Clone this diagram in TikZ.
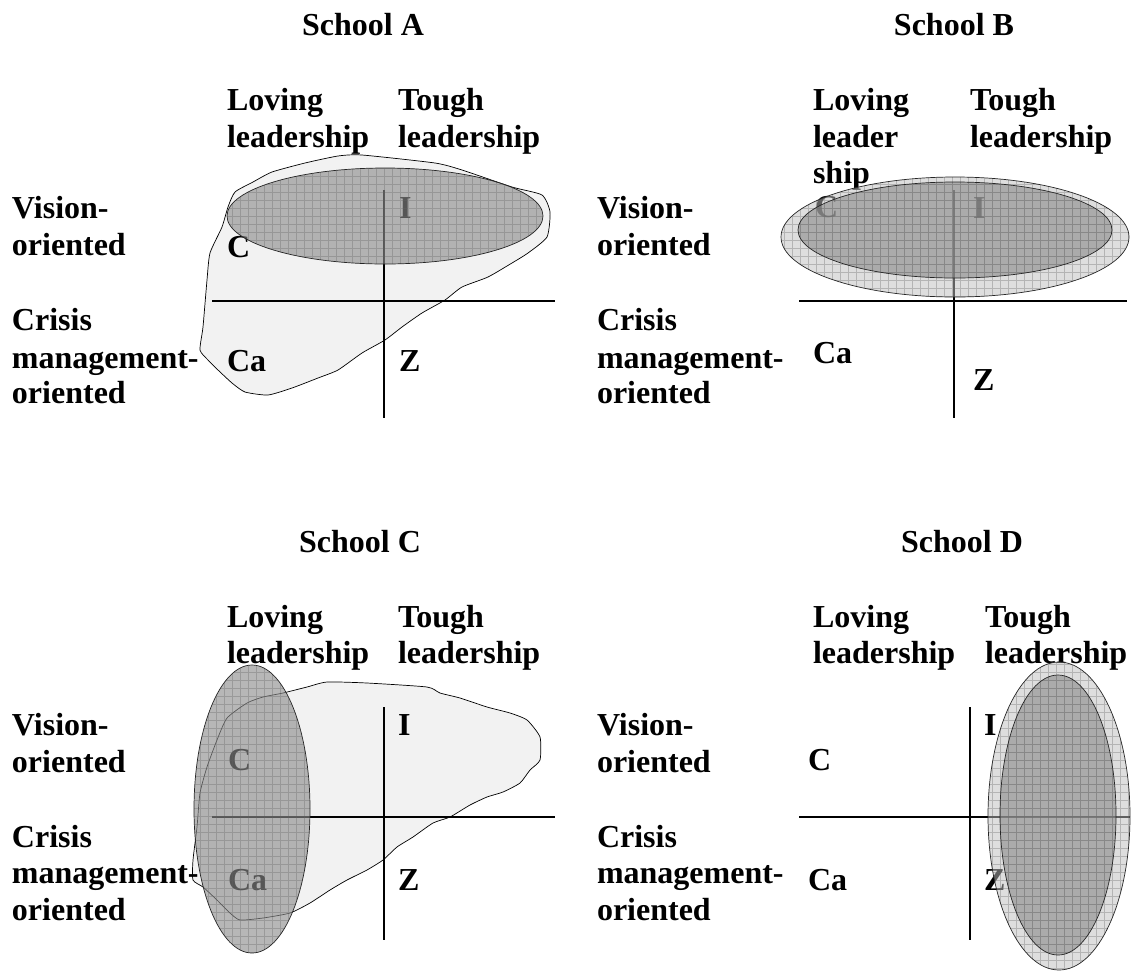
\documentclass[tikz,border=0pt]{standalone}
\usepackage{fontspec}
\setmainfont{Liberation Serif}
\begin{document}
\begin{tikzpicture}[x=1pt,y=-1pt,
  lbl/.style={anchor=base west,inner sep=0pt,outer sep=0pt,font=\bfseries\fontsize{32}{37}\selectfont},
  ttl/.style={anchor=base,inner sep=0pt,outer sep=0pt,font=\bfseries\fontsize{32}{37}\selectfont},
  axisline/.style={line width=1.6pt},
  blobshape/.style={fill=blobgray,draw=black,line width=0.7pt},
  darkfill/.style={fill=black!45,fill opacity=0.62},
  lightfill/.style={fill=black!25,fill opacity=0.5},
  gridlines/.style={draw=black!60,line width=0.5pt,opacity=0.35},
  ellline/.style={draw=black!85,line width=0.7pt}]
\definecolor{blobgray}{HTML}{F2F2F2}
\useasboundingbox (0,0) rectangle (1137,970);
\fill[white] (0,0) rectangle (1137,970);

% ---------------- titles
\node[ttl] (tA) at (363,35) {School A};
\node[ttl] (tB) at (954,35) {School B};
\node[ttl] (tC) at (360,552) {School C};
\node[ttl] (tD) at (962,552) {School D};

% ================= Panel A
\draw[blobshape] plot[smooth cycle,tension=0.35] coordinates {
 (235,192) (253,182) (272,172) (305,163) (338,156) (362,155) (435,163) (462,170)
 (512,187) (542,195) (550,212) (547,237) (528,253) (512,263) (488,277) (462,287)
 (445,300) (422,313) (402,327) (385,340) (362,353) (338,370) (318,378) (292,388)
 (268,395) (245,392) (232,383) (218,370) (208,360) (200,350) (203,327) (207,280)
 (210,253) (222,227) (228,207)};
\coordinate (aHl) at (212,301); \coordinate (aHr) at (555,301);
\coordinate (aVt) at (384,190); \coordinate (aVb) at (384,418);
\draw[axisline] (aHl) -- (aHr);
\draw[axisline] (aVt) -- (aVb);
\node[lbl] (aL1) at (227,110) {Loving};
\node[lbl] (aL2) at (227,147) {leadership};
\node[lbl] (aT1) at (398,110) {Tough};
\node[lbl] (aT2) at (398,147) {leadership};
\node[lbl] (aV1) at (12,218) {Vision-};
\node[lbl] (aV2) at (12,255) {oriented};
\node[lbl] (aK1) at (12,330) {Crisis};
\node[lbl] (aK2) at (12,368) {management-};
\node[lbl] (aK3) at (12,403) {oriented};
\node[lbl] (aC) at (227,257) {C};
\node[lbl] (aI) at (399,218) {I};
\node[lbl] (aCa) at (227,371) {Ca};
\node[lbl] (aZ) at (399,371) {Z};
\coordinate (aE) at (385,216);
\begin{scope}
 \clip (aE) ellipse [x radius=158,y radius=48];
 \fill[darkfill] (aE) ellipse [x radius=158,y radius=48];
 \draw[gridlines,step=8pt] (220,160) grid (550,270);
\end{scope}
\draw[ellline] (aE) ellipse [x radius=158,y radius=48];

% ================= Panel B
\coordinate (bHl) at (799,301); \coordinate (bHr) at (1127,301);
\coordinate (bVt) at (954,190); \coordinate (bVb) at (954,418);
\draw[axisline] (bHl) -- (bHr);
\draw[axisline] (bVt) -- (bVb);
\node[lbl] (bL1) at (813,110) {Loving};
\node[lbl] (bL2) at (813,147) {leader};
\node[lbl] (bL3) at (813,183) {ship};
\node[lbl] (bT1) at (970,110) {Tough};
\node[lbl] (bT2) at (970,147) {leadership};
\node[lbl] (bV1) at (597,218) {Vision-};
\node[lbl] (bV2) at (597,255) {oriented};
\node[lbl] (bK1) at (597,330) {Crisis};
\node[lbl] (bK2) at (597,368) {management-};
\node[lbl] (bK3) at (597,403) {oriented};
\node[lbl] (bC) at (815,217) {C};
\node[lbl] (bI) at (973,218) {I};
\node[lbl] (bCa) at (813,363) {Ca};
\node[lbl] (bZ) at (973,390) {Z};
\coordinate (bEo) at (955,237);
\coordinate (bEi) at (955,230);
\begin{scope}
 \clip (bEo) ellipse [x radius=174,y radius=60];
 \fill[lightfill] (bEo) ellipse [x radius=174,y radius=60];
 \draw[gridlines,step=8pt] (776,170) grid (1136,304);
\end{scope}
\draw[ellline] (bEo) ellipse [x radius=174,y radius=60];
\begin{scope}
 \clip (bEi) ellipse [x radius=157,y radius=48];
 \fill[darkfill] (bEi) ellipse [x radius=157,y radius=48];
 \draw[gridlines,step=8pt] (792,176) grid (1120,284);
\end{scope}
\draw[ellline] (bEi) ellipse [x radius=157,y radius=48];

% ================= Panel C
\draw[blobshape] plot[smooth cycle,tension=0.35] coordinates {
 (227,718) (247,703) (263,697) (283,693) (307,687) (327,682) (367,683) (427,687)
 (440,693) (460,698) (487,707) (510,713) (527,720) (540,737) (540,760) (530,770)
 (520,783) (503,792) (487,797) (470,805) (450,817) (433,823) (413,837) (397,847)
 (383,860) (367,870) (347,880) (330,890) (310,903) (290,913) (263,918) (240,920)
 (230,913) (217,900) (203,887) (193,880) (193,860) (197,827) (200,793) (207,767)
 (217,740)};
\coordinate (cHl) at (212,817); \coordinate (cHr) at (555,817);
\coordinate (cVt) at (384,707); \coordinate (cVb) at (384,940);
\draw[axisline] (cHl) -- (cHr);
\draw[axisline] (cVt) -- (cVb);
\node[lbl] (cL1) at (227,627) {Loving};
\node[lbl] (cL2) at (227,663) {leadership};
\node[lbl] (cT1) at (398,627) {Tough};
\node[lbl] (cT2) at (398,663) {leadership};
\node[lbl] (cV1) at (12,735) {Vision-};
\node[lbl] (cV2) at (12,772) {oriented};
\node[lbl] (cK1) at (12,847) {Crisis};
\node[lbl] (cK2) at (12,883) {management-};
\node[lbl] (cK3) at (12,920) {oriented};
\node[lbl] (cC) at (228,770) {C};
\node[lbl] (cI) at (398,735) {I};
\node[lbl] (cCa) at (228,890) {Ca};
\node[lbl] (cZ) at (398,890) {Z};
\coordinate (cE) at (252,809);
\begin{scope}
 \clip (cE) ellipse [x radius=58,y radius=144];
 \fill[darkfill] (cE) ellipse [x radius=58,y radius=144];
 \draw[gridlines,step=8pt] (190,660) grid (315,958);
\end{scope}
\draw[ellline] (cE) ellipse [x radius=58,y radius=144];

% ================= Panel D
\coordinate (dHl) at (799,817); \coordinate (dHr) at (1130,817);
\coordinate (dVt) at (970,707); \coordinate (dVb) at (970,940);
\draw[axisline] (dHl) -- (dHr);
\draw[axisline] (dVt) -- (dVb);
\node[lbl] (dL1) at (813,627) {Loving};
\node[lbl] (dL2) at (813,663) {leadership};
\node[lbl] (dT1) at (985,627) {Tough};
\node[lbl] (dT2) at (985,663) {leadership};
\node[lbl] (dV1) at (597,735) {Vision-};
\node[lbl] (dV2) at (597,772) {oriented};
\node[lbl] (dK1) at (597,847) {Crisis};
\node[lbl] (dK2) at (597,883) {management-};
\node[lbl] (dK3) at (597,920) {oriented};
\node[lbl] (dC) at (808,770) {C};
\node[lbl] (dI) at (984,735) {I};
\node[lbl] (dCa) at (808,890) {Ca};
\node[lbl] (dZ) at (984,890) {Z};
\coordinate (dEo) at (1059,816);
\coordinate (dEi) at (1058,815);
\begin{scope}
 \clip (dEo) ellipse [x radius=71,y radius=154];
 \fill[lightfill] (dEo) ellipse [x radius=71,y radius=154];
 \draw[gridlines,step=8pt] (984,656) grid (1136,970);
\end{scope}
\draw[ellline] (dEo) ellipse [x radius=71,y radius=154];
\begin{scope}
 \clip (dEi) ellipse [x radius=58,y radius=140];
 \fill[darkfill] (dEi) ellipse [x radius=58,y radius=140];
 \draw[gridlines,step=8pt] (996,670) grid (1120,960);
\end{scope}
\draw[ellline] (dEi) ellipse [x radius=58,y radius=140];
\end{tikzpicture}
\end{document}
